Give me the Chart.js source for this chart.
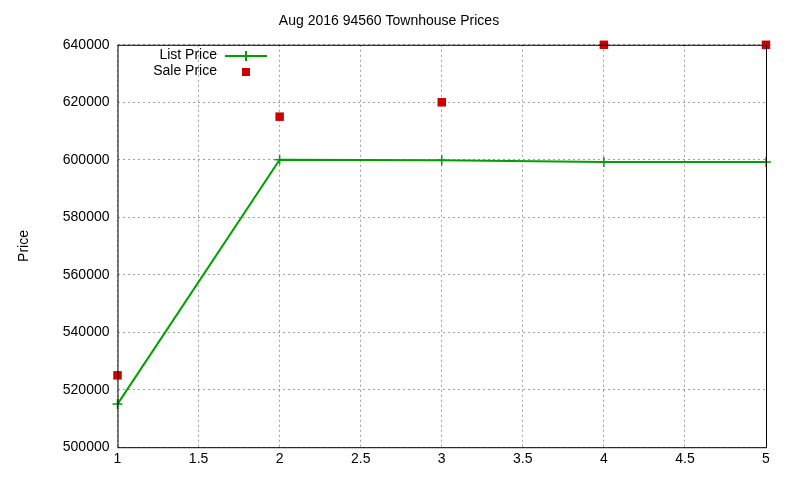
<!DOCTYPE html>
<html>
<head>
<meta charset="utf-8">
<script src="https://cdn.jsdelivr.net/npm/chart.js@4/dist/chart.umd.min.js"></script>
<style>
html,body{margin:0;padding:0;background:#fff;}
#wrap{width:800px;height:480px;position:relative;}
</style>
</head>
<body>
<div id="wrap"><canvas id="c" width="800" height="480"></canvas></div>
<script>
"use strict";

var xValues = [1, 2, 3, 4, 5];
var listPrice = [515000, 600000, 599800, 599200, 599200];
var salePrice = [525000, 615000, 620000, 640000, 640000];
var yTicks = [500000, 520000, 540000, 560000, 580000, 600000, 620000, 640000];

var FONT = "'Liberation Sans', Arial, sans-serif";

// gnuplot style key, drawn inside the top left corner
var keyPlugin = {
	id: "gnuKey",
	afterDraw: function(chart) {
		var ctx = chart.ctx;
		ctx.save();
		ctx.font = "14px " + FONT;
		ctx.fillStyle = "#000";
		ctx.textAlign = "right";
		ctx.textBaseline = "middle";
		ctx.fillText("List Price", 217, 55);
		ctx.fillText("Sale Price", 217, 71);
		ctx.strokeStyle = "#00a000";
		ctx.lineWidth = 2;
		ctx.beginPath();
		ctx.moveTo(225, 56); ctx.lineTo(267, 56);
		ctx.moveTo(246, 51); ctx.lineTo(246, 61);
		ctx.stroke();
		ctx.fillStyle = "#cc0000";
		ctx.fillRect(242, 68, 8, 8);
		ctx.restore();
	}
};

var borderPlugin = {
	id: "frame",
	afterDraw: function(chart) {
		var a = chart.chartArea, ctx = chart.ctx;
		ctx.save();
		ctx.strokeStyle = "#000";
		ctx.lineWidth = 1;
		ctx.strokeRect(a.left + 0.5, a.top + 0.5, a.right - a.left, a.bottom - a.top);
		ctx.restore();
	}
};

var chart = new Chart(document.getElementById("c"), {
	type: "scatter",
	data: {
		datasets: [{
			label: "List Price",
			data: xValues.map(function(x, i) { return {x: x, y: listPrice[i]}; }),
			showLine: true,
			borderColor: "#00a000",
			backgroundColor: "#00a000",
			borderWidth: 2,
			pointStyle: "cross",
			pointRadius: 5,
			pointBorderWidth: 1.5,
			order: 2
		}, {
			label: "Sale Price",
			data: xValues.map(function(x, i) { return {x: x, y: salePrice[i]}; }),
			showLine: false,
			borderColor: "#cc0000",
			backgroundColor: "#cc0000",
			pointStyle: "rect",
			pointRadius: 6,
			pointBorderWidth: 0,
			order: 1
		}]
	},
	options: {
		responsive: false,
		animation: false,
		clip: false,
		layout: {padding: {top: 0, right: 34, bottom: 8, left: 12}},
		plugins: {
			legend: {display: false},
			tooltip: {enabled: false},
			title: {
				display: true,
				text: "Aug 2016 94560 Townhouse Prices",
				color: "#000",
				font: {family: FONT, size: 14, weight: "normal"},
				padding: {top: 13, bottom: 15}
			}
		},
		scales: {
			x: {
				type: "linear",
				min: 1, max: 5,
				ticks: {stepSize: 0.5, color: "#000", font: {family: FONT, size: 14}, padding: 4,
					callback: function(v) { return String(v); }},
				grid: {color: "#a0a0a0", drawTicks: false},
				border: {display: false, dash: [2, 3]}
			},
			y: {
				min: 500000, max: 640000,
				afterBuildTicks: function(s) { s.ticks = yTicks.map(function(v) { return {value: v}; }); },
				ticks: {color: "#000", font: {family: FONT, size: 14}, padding: 8,
					callback: function(v) { return String(v); }},
				grid: {color: "#a0a0a0", drawTicks: false},
				border: {display: false, dash: [2, 3]},
				title: {display: true, text: "Price", color: "#000", font: {family: FONT, size: 14}, padding: {bottom: 22}}
			}
		}
	},
	plugins: [keyPlugin, borderPlugin]
});
</script>
</body>
</html>
